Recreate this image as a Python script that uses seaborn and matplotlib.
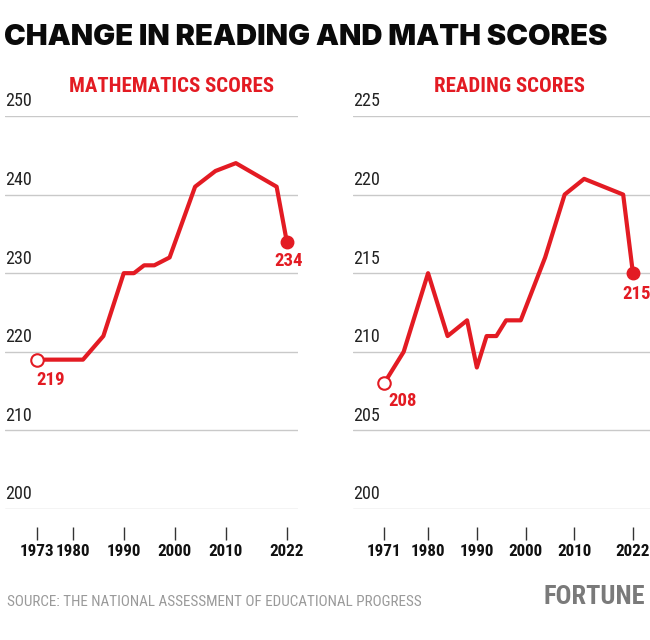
import pandas as pd
import seaborn as sns
import matplotlib.pyplot as plt
from matplotlib import transforms

# NAEP long-term trend, age 9
math_years = [1973, 1978, 1982, 1986, 1990, 1992, 1994, 1996, 1999, 2004, 2008, 2012, 2020, 2022]
math_scores = [219, 219, 219, 222, 230, 230, 231, 231, 232, 241, 243, 244, 241, 234]
math_xticks = [1973, 1980, 1990, 2000, 2010, 2022]
math_yticks = [200, 210, 220, 230, 240, 250]

read_years = [1971, 1975, 1980, 1984, 1988, 1990, 1992, 1994, 1996, 1999, 2004, 2008, 2012, 2020, 2022]
read_scores = [208, 210, 215, 211, 212, 209, 211, 211, 212, 212, 216, 220, 221, 220, 215]
read_xticks = [1971, 1980, 1990, 2000, 2010, 2022]
read_yticks = [200, 205, 210, 215, 220, 225]

RED = "#e31b23"
GRID = "#c9c9c9"
COND = ["Roboto Condensed", "Roboto", "DejaVu Sans"]

sns.set_style("white")
plt.rcParams["font.family"] = COND

fig = plt.figure(figsize=(6.5, 6.4), dpi=100)


def panel(rect, years, scores, xticks, yticks, xlim, title, title_x, start_off, end_off):
    ax = fig.add_axes(rect)
    df = pd.DataFrame({"year": years, "score": scores})
    sns.lineplot(data=df, x="year", y="score", ax=ax, color=RED, lw=3, clip_on=False)
    # open start marker, filled end marker
    ax.plot(years[0], scores[0], "o", ms=9, mfc="white", mec=RED, mew=1.5, clip_on=False, zorder=5)
    ax.plot(years[-1], scores[-1], "o", ms=9, mfc=RED, mec=RED, clip_on=False, zorder=5)
    ax.annotate(str(scores[0]), (years[0], scores[0]), xytext=start_off, textcoords="offset points",
                ha="center", va="center", color=RED, fontsize=13.5, fontweight="bold")
    ax.annotate(str(scores[-1]), (years[-1], scores[-1]), xytext=end_off, textcoords="offset points",
                ha="center", va="center", color=RED, fontsize=13.5, fontweight="bold")

    ax.set_xlim(*xlim)
    ax.set_ylim(yticks[0], yticks[-1])
    ax.set_yticks(yticks)
    ax.set_xticks(xticks)
    ax.grid(axis="y", color=GRID, lw=1)
    ax.grid(axis="x", visible=False)
    for s in ["top", "right", "left"]:
        ax.spines[s].set_visible(False)
    ax.spines["bottom"].set_position(("outward", 13))
    ax.spines["bottom"].set_visible(False)
    ax.tick_params(axis="x", bottom=True, direction="out", length=9.5, width=1, color="#333333",
                   pad=3, labelsize=12.3, labelcolor="#111111")
    for lab in ax.get_xticklabels():
        lab.set_fontweight("bold")
    ax.tick_params(axis="y", left=False, length=0, pad=0, labelsize=13, labelcolor="#222222")
    off = transforms.ScaledTranslation(0, 4 / 72, fig.dpi_scale_trans)
    for lab in ax.get_yticklabels():
        lab.set_horizontalalignment("left")
        lab.set_verticalalignment("bottom")
        lab.set_transform(lab.get_transform() + off)
    ax.set_xlabel("")
    ax.set_ylabel("")
    fig.text(title_x, 0.857, title, ha="center", va="baseline", color=RED, fontsize=15,
             fontweight="bold")
    return ax


panel([0.0077, 0.2047, 0.4508, 0.6141], math_years, math_scores, math_xticks, math_yticks,
      (1966.7, 2024.2), "MATHEMATICS SCORES", 0.2646, (9.5, -15), (1, -14))
panel([0.543, 0.2047, 0.457, 0.6141], read_years, read_scores, read_xticks, read_yticks,
      (1964.6, 2025.5), "READING SCORES", 0.783, (13.5, -13), (3, -15))

fig.text(0.006, 0.93, "CHANGE IN READING AND MATH SCORES", ha="left", va="baseline",
         fontsize=21, fontweight="black", color="#0a0a0a", family=["Inter", "DejaVu Sans"])
fig.text(0.011, 0.053, "SOURCE: THE NATIONAL ASSESSMENT OF EDUCATIONAL PROGRESS", ha="left",
         va="baseline", fontsize=10.9, color="#9a9a9a")
fig.text(0.992, 0.056, "FORTUNE", ha="right", va="baseline", fontsize=19, fontweight="bold",
         color="#7a7a7a")

fig.savefig("out.png", dpi=100)
